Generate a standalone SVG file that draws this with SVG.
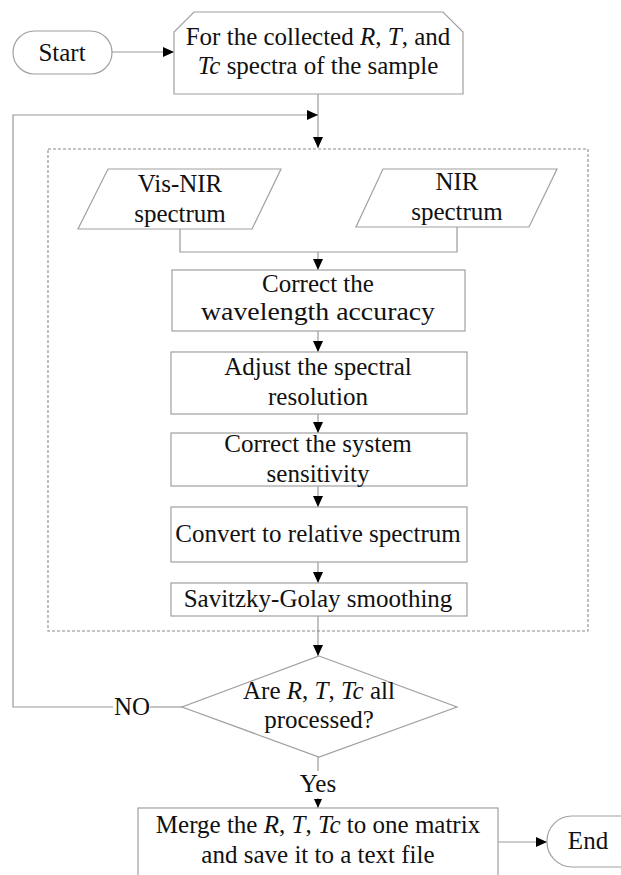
<svg xmlns="http://www.w3.org/2000/svg" width="621" height="875" viewBox="0 0 621 875">
<defs>
<marker id="ah" markerUnits="userSpaceOnUse" markerWidth="12" markerHeight="10" refX="11" refY="5" orient="auto">
<path d="M0,0 L11,5 L0,10 Z" fill="#000"/>
</marker>
<marker id="ahs" markerUnits="userSpaceOnUse" markerWidth="10" markerHeight="8" refX="9" refY="4" orient="auto">
<path d="M0,0 L9,4 L0,8 Z" fill="#000"/>
</marker>
<style>
.b{fill:#fff;stroke:#a0a0a0;stroke-width:1.2}
.c{fill:none;stroke:#9a9a9a;stroke-width:1.2}
.d{fill:none;stroke:#8a8a8a;stroke-width:1.1;stroke-dasharray:3 2}
</style>
</defs>
<rect width="621" height="875" fill="#fff"/>

<g id="connectors">
<path class="c" d="M112,52 H174" marker-end="url(#ah)"/>
<path class="c" d="M318,94 V148" marker-end="url(#ah)"/>
<path class="c" d="M113,707 H13 V115 H318" marker-end="url(#ah)"/>
<path class="c" d="M150,707 H182"/>
<path class="c" d="M180,229 V252 H318"/>
<path class="c" d="M457,227 V252 H318"/>
<path class="c" d="M318,252 V270" marker-end="url(#ah)"/>
<path class="c" d="M318,331 V352" marker-end="url(#ah)"/>
<path class="c" d="M318,414 V433" marker-end="url(#ah)"/>
<path class="c" d="M318,486 V507" marker-end="url(#ah)"/>
<path class="c" d="M318,562 V583" marker-end="url(#ah)"/>
<path class="c" d="M318,616 V656" marker-end="url(#ah)"/>
<path class="c" d="M318,757 V771"/>
<path class="c" d="M318,798 V808" marker-end="url(#ahs)"/>
<path class="c" d="M498,842 H547" marker-end="url(#ah)"/>
</g>

<g id="group-box">
<rect class="d" x="48" y="149" width="540" height="482"/>
</g>

<g font-family="Liberation Serif, serif" font-size="25" fill="#111" text-anchor="middle">
<g id="start">
<rect class="b" x="13" y="31" width="99" height="43" rx="21.5"/>
<text x="62" y="61">Start</text>
</g>

<g id="collect">
<path class="b" d="M194,12 H443 L463,32 V94 H174 V32 Z"/>
<text x="318" y="45">For the collected <tspan font-style="italic">R</tspan>, <tspan font-style="italic">T</tspan>, and</text>
<text x="318" y="74"><tspan font-style="italic">Tc</tspan> spectra of the sample</text>
</g>

<g id="visnir">
<path class="b" d="M108,169 H281 L252,229 H78 Z"/>
<text x="180" y="192">Vis-NIR</text>
<text x="180" y="222">spectrum</text>
</g>

<g id="nir">
<path class="b" d="M383,169 H557 L529,227 H356 Z"/>
<text x="457" y="190">NIR</text>
<text x="457" y="220">spectrum</text>
</g>

<g id="wavelength">
<rect class="b" x="172" y="270" width="293" height="61"/>
<text x="318" y="292">Correct the</text>
<text x="318" y="320" textLength="234" lengthAdjust="spacingAndGlyphs">wavelength accuracy</text>
</g>

<g id="resolution">
<rect class="b" x="171" y="352" width="296" height="62"/>
<text x="318" y="375">Adjust the spectral</text>
<text x="318" y="405">resolution</text>
</g>

<g id="sensitivity">
<rect class="b" x="171" y="433" width="296" height="53"/>
<text x="318" y="452">Correct the system</text>
<text x="318" y="482">sensitivity</text>
</g>

<g id="relative">
<rect class="b" x="171" y="507" width="296" height="55"/>
<text x="318" y="542">Convert to relative spectrum</text>
</g>

<g id="smoothing">
<rect class="b" x="171" y="583" width="296" height="33"/>
<text x="318" y="607">Savitzky-Golay smoothing</text>
</g>

<g id="decision">
<path class="b" d="M319,656 L457,707 L319,757 L182,707 Z"/>
<text x="319" y="699">Are <tspan font-style="italic">R</tspan>, <tspan font-style="italic">T</tspan>, <tspan font-style="italic">Tc</tspan> all</text>
<text x="319" y="728">processed?</text>
</g>

<g id="labels">
<text x="132" y="715">NO</text>
<text x="318" y="792">Yes</text>
</g>

<g id="merge">
<rect class="b" x="138" y="808" width="360" height="80"/>
<text x="318" y="833">Merge the <tspan font-style="italic">R</tspan>, <tspan font-style="italic">T</tspan>, <tspan font-style="italic">Tc</tspan> to one matrix</text>
<text x="318" y="863">and save it to a text file</text>
</g>

<g id="end">
<rect class="b" x="547" y="816" width="110" height="51" rx="25"/>
<text x="588" y="849">End</text>
</g>
</g>
</svg>
